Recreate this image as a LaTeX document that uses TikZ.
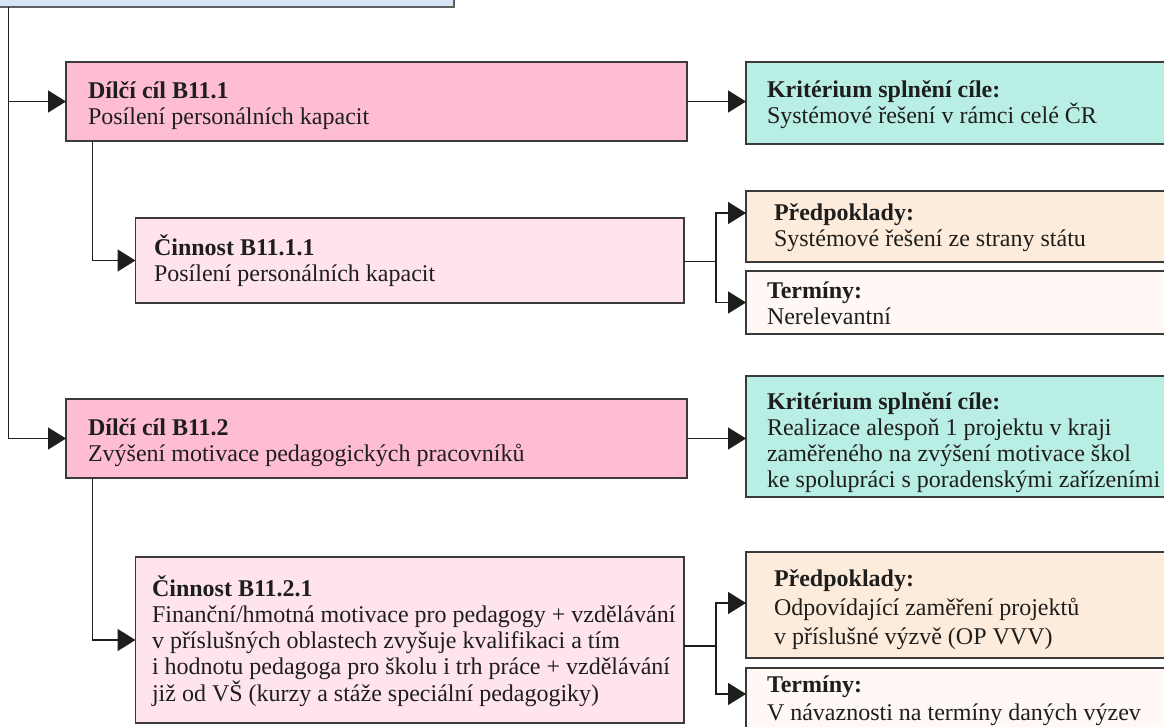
\documentclass[tikz,border=0pt]{standalone}
\usepackage{fontspec}
\setmainfont{Liberation Serif}
\usetikzlibrary{arrows.meta}
\definecolor{topblue}{HTML}{D6E4F6}
\definecolor{goalpink}{HTML}{FFBCD5}
\definecolor{actpink}{HTML}{FFE3EE}
\definecolor{teal}{HTML}{B9EEE5}
\definecolor{peach}{HTML}{FDEBDB}
\definecolor{cream}{HTML}{FFF8F4}
\definecolor{ink}{HTML}{1E1E1C}
\definecolor{edge}{HTML}{3A3A3A}
\begin{document}
\begin{tikzpicture}[x=1pt,y=-1pt,
  box/.style={draw=edge, line width=1.1pt, anchor=north west, inner sep=0pt, outer sep=0pt},
  txt/.style={anchor=north west, inner sep=0pt, outer sep=0pt, align=left, text=ink,
              font=\fontsize{24}{26.3}\selectfont},
  conn/.style={draw=ink, line width=1.5pt},
  arr/.style={conn, -{Triangle[length=18pt,width=22pt]}}]
\useasboundingbox (0,0) rectangle (1164,726);
\clip (0,0) rectangle (1164,726);

% boxes
\node[box, draw=edge!80, line width=2pt, fill=topblue, minimum width=464pt, minimum height=20pt] (top) at (-10,-13) {};
\node[box, fill=goalpink, minimum width=621pt, minimum height=79pt] (c1) at (66,62) {};
\node[box, fill=teal, minimum width=440pt, minimum height=82pt] (k1) at (746,62) {};
\node[box, fill=actpink, minimum width=548.5pt, minimum height=85pt] (a1) at (135.5,218) {};
\node[box, fill=peach, minimum width=440pt, minimum height=71pt] (p1) at (746,191) {};
\node[box, fill=cream, minimum width=440pt, minimum height=63pt] (t1) at (746,271) {};
\node[box, fill=goalpink, minimum width=621pt, minimum height=79pt] (c2) at (66,399) {};
\node[box, fill=teal, minimum width=440pt, minimum height=121pt] (k2) at (746,376) {};
\node[box, fill=actpink, minimum width=548.5pt, minimum height=166pt] (a2) at (135.5,557) {};
\node[box, fill=peach, minimum width=440pt, minimum height=106pt] (p2) at (746,552) {};
\node[box, fill=cream, minimum width=440pt, minimum height=80pt] (t2) at (746,668) {};

% texts (first line top = baseline - 22)
\node[txt] (c1t) at (88,76) {\rule{0pt}{22pt}\textbf{Dílčí cíl B11.1}\\Posílení personálních kapacit};
\node[txt] (k1t) at (767,75) {\rule{0pt}{22pt}\textbf{Kritérium splnění cíle:}\\Systémové řešení v rámci celé ČR};
\node[txt] (a1t) at (154,233.5) {\rule{0pt}{22pt}\textbf{Činnost B11.1.1}\\Posílení personálních kapacit};
\node[txt] (p1t) at (774,198) {\rule{0pt}{22pt}\textbf{Předpoklady:}\\Systémové řešení ze strany státu};
\node[txt] (t1t) at (767,276) {\rule{0pt}{22pt}\textbf{Termíny:}\\Nerelevantní};
\node[txt] (c2t) at (88,413) {\rule{0pt}{22pt}\textbf{Dílčí cíl B11.2}\\Zvýšení motivace pedagogických pracovníků};
\node[txt] (k2t) at (767,387) {\rule{0pt}{22pt}\textbf{Kritérium splnění cíle:}\\Realizace alespoň 1 projektu v kraji\\zaměřeného na zvýšení motivace škol\\ke spolupráci s poradenskými zařízeními};
\node[txt] (a2t) at (152,574) {\rule{0pt}{22pt}\textbf{Činnost B11.2.1}\\Finanční/hmotná motivace pro pedagogy + vzdělávání\\v příslušných oblastech zvyšuje kvalifikaci a tím\\i hodnotu pedagoga pro školu i trh práce + vzdělávání\\již od VŠ (kurzy a stáže speciální pedagogiky)};
\node[txt, font=\fontsize{24}{29}\selectfont] (p2t) at (774,564) {\rule{0pt}{22pt}\textbf{Předpoklady:}\\Odpovídající zaměření projektů\\v příslušné výzvě (OP VVV)};
\node[txt, font=\fontsize{24}{28}\selectfont] (t2t) at (767,670.7) {\rule{0pt}{22pt}\textbf{Termíny:}\\V návaznosti na termíny daných výzev};

% connectors
\coordinate (trunk) at (8.5,0);
\coordinate (b1) at (92.7,0);
\coordinate (b2) at (92.3,0);
\coordinate (j1) at (716,261.7);
\coordinate (j2) at (716,646);

\draw[arr] (trunk |- top.south) |- (c2.west);
\draw[arr] (trunk |- c1.west) -- (c1.west);
\draw[arr] (b1 |- c1.south) |- (a1.west);
\draw[arr] (b2 |- c2.south) |- (a2.west);
\draw[arr] (c1.east) -- (c1.east -| k1.west);
\draw[arr] (c2.east) -- (c2.east -| k2.west);

\draw[conn] (a1.east |- j1) -- (j1);
\draw[arr] (j1) |- ([yshift=-22pt]p1.north west);
\draw[arr] (j1) |- (t1.west);
\draw[conn] (a2.east |- j2) -- (j2);
\draw[arr] (j2) |- ([yshift=-51pt]p2.north west);
\draw[arr] (j2) |- ([yshift=-26pt]t2.north west);
\end{tikzpicture}
\end{document}
